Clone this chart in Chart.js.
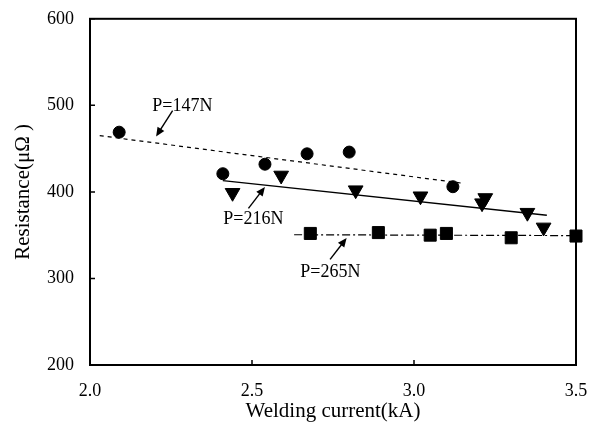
<!DOCTYPE html>
<html>
<head>
<meta charset="utf-8">
<script src="https://cdn.jsdelivr.net/npm/chart.js@4"></script>
<style>
  html, body { margin: 0; padding: 0; background: #fff; }
  #wrap { width: 598px; height: 425px; }
</style>
</head>
<body>
<div id="wrap"><canvas id="myChart"></canvas></div>
<script>
// measured points
const p147X = [2.09, 2.41, 2.54, 2.67, 2.80, 3.12];
const p147Y = [469, 421, 432, 444, 446, 406];
const p216X = [2.44, 2.59, 2.82, 3.02, 3.21, 3.22, 3.35, 3.40];
const p216Y = [399, 419, 402, 395, 387, 393, 376, 359];
const p265X = [2.68, 2.89, 3.05, 3.10, 3.30, 3.50];
const p265Y = [352, 353, 350, 352, 347, 349];

// fitted lines (end points)
const fit147X = [2.03, 3.15];
const fit147Y = [465, 410];
const fit216X = [2.41, 3.41];
const fit216Y = [413, 373];
const fit265X = [2.63, 3.50];
const fit265Y = [350.5, 349.5];

const xTicks = [2.0, 2.5, 3.0, 3.5];
const yTicks = [200, 300, 400, 500, 600];

// labels with arrows: text position, arrow tail, arrow tip (data units)
const labelText = ['P=147N', 'P=216N', 'P=265N'];
const labelX = [2.285, 2.504, 2.742];
const labelY = [499, 368, 307];
const arrowFromX = [2.255, 2.489, 2.741];
const arrowFromY = [494, 381, 322];
const arrowToX = [2.204, 2.54, 2.792];
const arrowToY = [464, 405.7, 346.7];

const serif = '"Liberation Serif", "DejaVu Serif", serif';

function pts(xs, ys) {
  return xs.map((x, i) => ({ x: x, y: ys[i] }));
}

const frame = {
  id: 'frame',
  afterDatasetsDraw(chart) {
    const { ctx, chartArea: a, scales: { x, y } } = chart;
    ctx.save();
    ctx.strokeStyle = '#000';
    ctx.lineWidth = 2;
    ctx.strokeRect(a.left, a.top, a.right - a.left, a.bottom - a.top);
    ctx.lineWidth = 1.5;
    ctx.beginPath();
    yTicks.forEach(v => {
      const py = y.getPixelForValue(v);
      ctx.moveTo(a.left, py);
      ctx.lineTo(a.left + 5, py);
    });
    xTicks.forEach(v => {
      const px = x.getPixelForValue(v);
      ctx.moveTo(px, a.bottom);
      ctx.lineTo(px, a.bottom - 5);
    });
    ctx.stroke();

    // annotations
    ctx.fillStyle = '#000';
    ctx.font = '18px ' + serif;
    ctx.textAlign = 'center';
    ctx.textBaseline = 'middle';
    labelText.forEach((t, i) => {
      ctx.fillText(t, x.getPixelForValue(labelX[i]), y.getPixelForValue(labelY[i]));
      const x0 = x.getPixelForValue(arrowFromX[i]);
      const y0 = y.getPixelForValue(arrowFromY[i]);
      const x1 = x.getPixelForValue(arrowToX[i]);
      const y1 = y.getPixelForValue(arrowToY[i]);
      const ang = Math.atan2(y1 - y0, x1 - x0);
      const hl = 9, hw = 4;
      ctx.lineWidth = 1.4;
      ctx.beginPath();
      ctx.moveTo(x0, y0);
      ctx.lineTo(x1 - Math.cos(ang) * hl * 0.8, y1 - Math.sin(ang) * hl * 0.8);
      ctx.stroke();
      ctx.beginPath();
      ctx.moveTo(x1, y1);
      ctx.lineTo(x1 - Math.cos(ang) * hl - Math.sin(ang) * hw, y1 - Math.sin(ang) * hl + Math.cos(ang) * hw);
      ctx.lineTo(x1 - Math.cos(ang) * hl + Math.sin(ang) * hw, y1 - Math.sin(ang) * hl - Math.cos(ang) * hw);
      ctx.closePath();
      ctx.fill();
    });
    ctx.restore();
  }
};

const ctx = document.getElementById('myChart');

new Chart(ctx, {
  type: 'scatter',
  data: {
    datasets: [{
      label: 'fit 147N',
      data: pts(fit147X, fit147Y),
      showLine: true,
      borderColor: '#000',
      borderWidth: 1.2,
      borderDash: [4, 4],
      pointRadius: 0
    }, {
      label: 'fit 216N',
      data: pts(fit216X, fit216Y),
      showLine: true,
      borderColor: '#000',
      borderWidth: 1.4,
      pointRadius: 0
    }, {
      label: 'fit 265N',
      data: pts(fit265X, fit265Y),
      showLine: true,
      borderColor: '#000',
      borderWidth: 1.2,
      borderDash: [8, 3, 2, 3],
      pointRadius: 0
    }, {
      label: 'P=147N',
      data: pts(p147X, p147Y),
      pointStyle: 'circle',
      pointRadius: 6,
      backgroundColor: '#000',
      borderColor: '#000',
      clip: false
    }, {
      label: 'P=216N',
      data: pts(p216X, p216Y),
      pointStyle: 'triangle',
      rotation: 180,
      pointRadius: 8.5,
      backgroundColor: '#000',
      borderColor: '#000',
      clip: false
    }, {
      label: 'P=265N',
      data: pts(p265X, p265Y),
      pointStyle: 'rect',
      pointRadius: 8.5,
      backgroundColor: '#000',
      borderColor: '#000',
      clip: false
    }]
  },
  options: {
    responsive: true,
    maintainAspectRatio: false,
    animation: false,
    events: [],
    layout: {
      padding: { top: 15, right: 22, left: 0, bottom: 0 }
    },
    plugins: {
      legend: { display: false },
      tooltip: { enabled: false }
    },
    scales: {
      x: {
        type: 'linear',
        min: 2.0,
        max: 3.5,
        afterFit(scale) { scale.height = 60; },
        afterBuildTicks(scale) { scale.ticks = xTicks.map(v => ({ value: v })); },
        grid: { display: false },
        border: { display: false },
        ticks: {
          color: '#000',
          padding: 7,
          maxRotation: 0,
          font: { family: serif, size: 18 },
          callback: v => v.toFixed(1)
        },
        title: {
          display: true,
          text: 'Welding current(kA)',
          color: '#000',
          font: { family: serif, size: 21 },
          padding: { top: 0, bottom: 1 }
        }
      },
      y: {
        type: 'linear',
        min: 200,
        max: 600,
        afterFit(scale) { scale.width = 90; },
        afterBuildTicks(scale) { scale.ticks = yTicks.map(v => ({ value: v })); },
        grid: { display: false },
        border: { display: false },
        ticks: {
          color: '#000',
          padding: 8,
          font: { family: serif, size: 18 }
        },
        title: {
          display: true,
          text: 'Resistance(μΩ )',
          color: '#000',
          font: { family: serif, size: 21 },
          padding: { top: 11, bottom: 0 }
        }
      }
    }
  },
  plugins: [frame]
});
</script>
</body>
</html>
